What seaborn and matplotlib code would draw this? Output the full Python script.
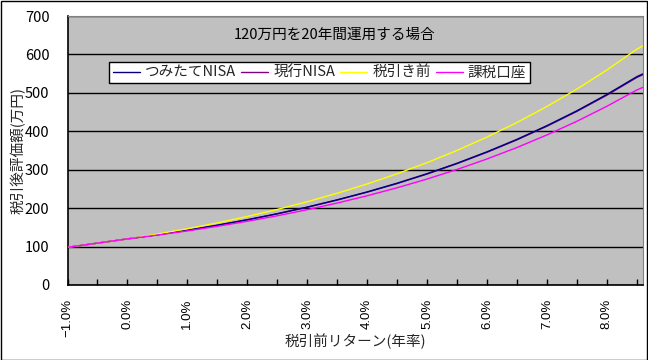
import numpy as np
import pandas as pd
import matplotlib
matplotlib.use("Agg")
import matplotlib.pyplot as plt
import seaborn as sns
from matplotlib.ticker import MultipleLocator, FixedLocator, FixedFormatter
from matplotlib.patches import Rectangle
from matplotlib.lines import Line2D

# ---- data ----
returns = [-1.0, -0.5, 0.0, 0.5, 1.0, 1.5, 2.0, 2.5, 3.0, 3.5, 4.0, 4.5,
           5.0, 5.5, 6.0, 6.5, 7.0, 7.5, 8.0, 8.5, 8.6]
tsumitate_nisa = [98, 109, 120, 130.8, 142.6, 155.6, 169.8, 185.5, 202.7, 221.6, 242.2,
                  264.8, 289.6, 316.7, 346.5, 378.9, 414.5, 453.2, 495.6, 541.9, 549.2]
genko_nisa = [98, 109, 120, 130.7, 142.4, 155.3, 169.5, 185.1, 202.2, 221.0, 241.5,
              264.0, 288.7, 315.7, 345.3, 377.6, 413.0, 451.6, 493.8, 539.9, 547.0]
pretax = [98, 109, 120, 132.6, 146.4, 161.6, 178.3, 196.6, 216.7, 238.8, 262.9,
          289.4, 318.4, 350.1, 384.9, 422.8, 464.4, 509.7, 559.3, 613.4, 622.0]
taxed = [98, 109, 120, 129.9, 140.7, 152.7, 165.8, 180.1, 195.9, 213.3, 232.2,
         253.0, 275.7, 300.6, 327.9, 357.7, 390.4, 425.9, 464.9, 507.3, 514.1]
series_names = ["つみたてNISA", "現行NISA", "税引き前", "課税口座"]
series_colors = ["#000080", "#800080", "#FFFF00", "#FF00FF"]
x_tick_values = [-1, 0, 1, 2, 3, 4, 5, 6, 7, 8]
x_tick_labels = ["−1.0%", "0.0%", "1.0%", "2.0%", "3.0%", "4.0%", "5.0%", "6.0%", "7.0%", "8.0%"]
y_ticks = [0, 100, 200, 300, 400, 500, 600, 700]
title_text = "120万円を20年間運用する場合"
x_label = "税引前リターン(年率)"
y_label = "税引後評価額(万円)"

df = pd.DataFrame({
    "r": returns * 4,
    "v": tsumitate_nisa + genko_nisa + pretax + taxed,
    "s": sum([[n] * len(returns) for n in series_names], []),
})

sns.set_theme(style="white")
plt.rcParams["font.family"] = ["Noto Sans CJK JP", "DejaVu Sans"]

W, H = 648, 360
fig = plt.figure(figsize=(W / 100, H / 100), dpi=100)
fig.patch.set_facecolor("white")
L, R, T, B = 67.5, 642.7, 16, 285
ax = fig.add_axes([L / W, 1 - B / H, (R - L) / W, (B - T) / H])
ax.set_facecolor("#C0C0C0")

sns.lineplot(data=df, x="r", y="v", hue="s", hue_order=series_names,
             palette=dict(zip(series_names, series_colors)), ax=ax,
             linewidth=1.0, legend=False, sort=False, estimator=None)
lines = ax.get_lines()
for ln, z in zip(lines, [4, 3, 5, 6]):
    ln.set_zorder(z)

ax.set_xlim(-1.0, 8.6)
ax.set_ylim(0, 700)
ax.set_yticks(y_ticks)
ax.set_yticklabels([str(v) for v in y_ticks])
ax.yaxis.grid(True, color="black", linewidth=1.0)
ax.set_axisbelow(True)
ax.xaxis.set_major_locator(FixedLocator(x_tick_values))
ax.xaxis.set_major_formatter(FixedFormatter(x_tick_labels))
ax.xaxis.set_minor_locator(MultipleLocator(0.5))
ax.tick_params(axis="x", which="both", direction="in", length=4, width=1,
               color="black", bottom=True, pad=10)
ax.tick_params(axis="x", which="major", labelsize=9.5, labelrotation=90,
               labelcolor="black", labelfontfamily="Liberation Sans")
ax.tick_params(axis="y", which="both", length=0, pad=13, labelsize=10.5, labelcolor="black")
for lab in ax.get_xticklabels():
    lab.set_va("top")
for side in ["left", "bottom"]:
    ax.spines[side].set_color("black")
    ax.spines[side].set_linewidth(1.2)
for side in ["top", "right"]:
    ax.spines[side].set_color("#808080")
    ax.spines[side].set_linewidth(0.8)
ax.set_xlabel("")
ax.set_ylabel("")

ax.text((335 - L) / (R - L), 1 - (35 - T) / (B - T), title_text,
        transform=ax.transAxes, ha="center", va="center", fontsize=10.5, color="black")

fig.text(355 / W, 1 - 341 / H, x_label, ha="center", va="center", fontsize=10.5)
fig.text(18 / W, 1 - 150 / H, y_label, ha="center", va="center", rotation=90, fontsize=10.5)

handles = [Line2D([], [], color=c, linewidth=1.0) for c in series_colors]
leg = ax.legend(handles, series_names, ncol=4, loc="upper left",
                bbox_to_anchor=((109 - L) / (R - L), 1 - (62 - T) / (B - T)),
                frameon=True, fancybox=False, edgecolor="black", facecolor="white",
                framealpha=1, fontsize=10.5, handlelength=1.85, handletextpad=0.35,
                columnspacing=0.35, borderpad=0.25, borderaxespad=0)
leg.get_frame().set_linewidth(1.0)

fig.patches.append(Rectangle((0.5 / W, 0.5 / H), 1 - 1.5 / W, 1 - 1.5 / H,
                             transform=fig.transFigure, fill=False,
                             edgecolor="black", linewidth=1.0))
fig.savefig("out.png", dpi=100)
